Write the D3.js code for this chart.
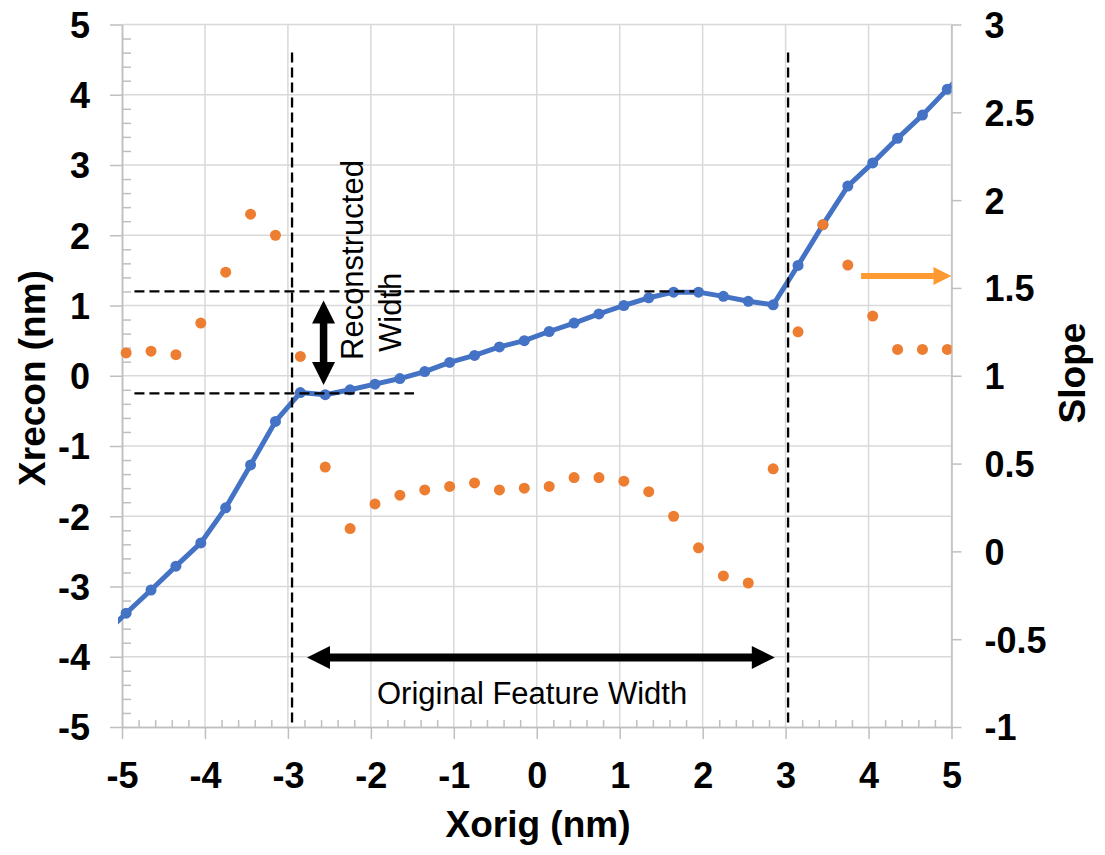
<!DOCTYPE html>
<html lang="en">
<head>
<meta charset="UTF-8">
<title>Xrecon vs Xorig</title>
<style>
    body { margin: 0; background: #fff; }
    svg { display: block; font-family: Arial, "Liberation Sans", sans-serif; }
    .tick-label { font-size: 36px; font-weight: bold; fill: #000; }
    .axis-title { font-size: 37px; font-weight: bold; fill: #000; }
    .note { font-size: 31px; fill: #000; }
</style>
</head>
<body>
<script src="https://d3js.org/d3.v7.min.js"></script>
<script>
// Xorig sample positions (nm); the first and last sit just outside the plot and get clipped
const xOrig = [-5.25, -4.95, -4.65, -4.35, -4.05, -3.75, -3.45, -3.15, -2.85, -2.55, -2.25, -1.95,
    -1.65, -1.35, -1.05, -0.75, -0.45, -0.15, 0.15, 0.45, 0.75, 1.05, 1.35, 1.65,
    1.95, 2.25, 2.55, 2.85, 3.15, 3.45, 3.75, 4.05, 4.35, 4.65, 4.95, 5.25];
// reconstructed position (left axis, nm)
const xRecon = [-3.72, -3.38, -3.05, -2.71, -2.38, -1.88, -1.27, -0.65, -0.24, -0.27, -0.2, -0.12,
    -0.04, 0.06, 0.19, 0.29, 0.41, 0.5, 0.63, 0.75, 0.88, 1.0, 1.11, 1.19,
    1.19, 1.13, 1.06, 1.01, 1.57, 2.15, 2.7, 3.03, 3.38, 3.71, 4.08, 4.43];
// slope (right axis)
const slope = [null, 1.13, 1.14, 1.12, 1.3, 1.59, 1.92, 1.8, 1.11, 0.48, 0.13, 0.27,
    0.32, 0.35, 0.37, 0.39, 0.35, 0.36, 0.37, 0.42, 0.42, 0.4, 0.34, 0.2,
    0.02, -0.14, -0.18, 0.47, 1.25, 1.86, 1.63, 1.34, 1.15, 1.15, 1.15, null];

const xTicks = [-5, -4, -3, -2, -1, 0, 1, 2, 3, 4, 5];
const yLeftTicks = [-5, -4, -3, -2, -1, 0, 1, 2, 3, 4, 5];
const yRightTicks = [-1, -0.5, 0, 0.5, 1, 1.5, 2, 2.5, 3];

// annotation geometry in data units
const featureEdges = [-2.95, 3.03];      // vertical dashed lines
const featureTop = 4.6;
const reconLevels = [1.2, -0.25];        // horizontal dashed lines
const reconLineEnds = [1.9, -1.48];
const dashStart = -4.85;
const reconArrow = {x: -2.57, y0: -0.13, y1: 1.07};
const featureArrow = {y: -4.01, x0: -2.77, x1: 2.87};
const slopeArrow = {y: 1.42, x0: 3.91, x1: 5.0};

const width = 1105, height = 855;
const pLeft = 122, pRight = 951.5, pTop = 24.5, pBottom = 727;

const svg = d3.select("body").append("svg")
    .attr("width", width)
    .attr("height", height);

const x = d3.scaleLinear().domain([-5, 5]).range([pLeft, pRight]);
const y = d3.scaleLinear().domain([-5, 5]).range([pBottom, pTop]);
const y2 = d3.scaleLinear().domain([-1, 3]).range([pBottom, pTop]);

svg.append("defs").append("clipPath").attr("id", "plot")
    .append("rect")
    .attr("x", pLeft - 4).attr("y", pTop)
    .attr("width", pRight - pLeft + 4).attr("height", pBottom - pTop);

// gridlines
const grid = svg.append("g").attr("stroke", "#d9d9d9").attr("stroke-width", 1.5);
grid.selectAll(".gx").data(xTicks.slice(1)).join("line")
    .attr("x1", d => x(d)).attr("x2", d => x(d))
    .attr("y1", pTop).attr("y2", pBottom);
grid.selectAll(".gy").data(yLeftTicks.slice(1)).join("line")
    .attr("x1", pLeft).attr("x2", pRight)
    .attr("y1", d => y(d)).attr("y2", d => y(d));

// minor tick values every 0.2
const minor = d3.range(-50, 51, 2).map(d => d / 10).filter(d => !Number.isInteger(d));
const plain = d => String(d);   // keep a hyphen minus, like the source chart

function styleAxis(g) {
    g.select(".domain").attr("stroke", "#bfbfbf").attr("stroke-width", 1.5);
    g.selectAll(".tick line").attr("stroke", "#bfbfbf").attr("stroke-width", 1.5);
}

// bottom axis
svg.append("g").attr("transform", `translate(0,${pBottom})`)
    .call(d3.axisTop(x).tickValues(minor).tickSize(7).tickSizeOuter(0).tickFormat(""))
    .call(styleAxis);
svg.append("g").attr("transform", `translate(0,${pBottom})`)
    .call(d3.axisBottom(x).tickValues(xTicks).tickSize(12).tickSizeOuter(0).tickFormat(plain))
    .call(styleAxis)
    .call(g => g.selectAll("text").attr("class", "tick-label").attr("y", 61).attr("dy", 0)
        .attr("font-size", null).attr("font-family", null));

// left axis
svg.append("g").attr("transform", `translate(${pLeft},0)`)
    .call(d3.axisRight(y).tickValues(minor).tickSize(9).tickSizeOuter(0).tickFormat(""))
    .call(styleAxis);
svg.append("g").attr("transform", `translate(${pLeft},0)`)
    .call(d3.axisLeft(y).tickValues(yLeftTicks).tickSize(12).tickSizeOuter(0).tickFormat(plain))
    .call(styleAxis)
    .call(g => g.selectAll("text").attr("class", "tick-label").attr("x", -32).attr("dy", "0.36em")
        .attr("font-size", null).attr("font-family", null));

// right axis
svg.append("g").attr("transform", `translate(${pRight},0)`)
    .call(d3.axisRight(y2).tickValues(yRightTicks).tickSize(10).tickSizeOuter(0).tickFormat(plain))
    .call(styleAxis)
    .call(g => g.selectAll("text").attr("class", "tick-label").attr("x", 33).attr("dy", "0.36em")
        .attr("font-size", null).attr("font-family", null));

// axis titles
svg.append("text").attr("class", "axis-title")
    .attr("x", 538).attr("y", 837).attr("text-anchor", "middle")
    .text("Xorig (nm)");
svg.append("text").attr("class", "axis-title")
    .attr("transform", "translate(45,378) rotate(-90)").attr("text-anchor", "middle")
    .text("Xrecon (nm)");
svg.append("text").attr("class", "axis-title")
    .attr("transform", "translate(1085,373) rotate(-90)").attr("text-anchor", "middle")
    .text("Slope");

// series
const plot = svg.append("g").attr("clip-path", "url(#plot)");
const pts = xOrig.map((d, i) => ({x: d, r: xRecon[i], s: slope[i]}));

plot.append("path").datum(pts)
    .attr("fill", "none").attr("stroke", "#4472c4").attr("stroke-width", 5)
    .attr("stroke-linejoin", "round")
    .attr("d", d3.line().x(d => x(d.x)).y(d => y(d.r)));
plot.selectAll(".mb").data(pts).join("circle")
    .attr("cx", d => x(d.x)).attr("cy", d => y(d.r)).attr("r", 5.5)
    .attr("fill", "#4472c4");
plot.selectAll(".mo").data(pts.filter(d => d.s != null)).join("circle")
    .attr("cx", d => x(d.x)).attr("cy", d => y2(d.s)).attr("r", 5.5)
    .attr("fill", "#ed7d31");

// annotations
const ann = svg.append("g");
ann.selectAll(".vd").data(featureEdges).join("line")
    .attr("x1", d => x(d)).attr("x2", d => x(d))
    .attr("y1", y(featureTop)).attr("y2", pBottom)
    .attr("stroke", "#000").attr("stroke-width", 2.3).attr("stroke-dasharray", "10,5");
ann.selectAll(".hd").data(reconLevels).join("line")
    .attr("x1", x(dashStart)).attr("x2", (d, i) => x(reconLineEnds[i]))
    .attr("y1", d => y(d)).attr("y2", d => y(d))
    .attr("stroke", "#000").attr("stroke-width", 2.3).attr("stroke-dasharray", "10,5");

function arrowHead(tx, ty, dx, dy, len, half, color) {
    // triangle with tip at (tx,ty) pointing along (dx,dy)
    const bx = tx - dx * len, by = ty - dy * len;
    const px = -dy * half, py = dx * half;
    ann.append("path")
        .attr("d", `M${tx},${ty}L${bx + px},${by + py}L${bx - px},${by - py}Z`)
        .attr("fill", color);
}

// vertical double arrow (reconstructed width)
{
    const ax = x(reconArrow.x), a0 = y(reconArrow.y0), a1 = y(reconArrow.y1);
    ann.append("line").attr("x1", ax).attr("x2", ax).attr("y1", a0 - 20).attr("y2", a1 + 20)
        .attr("stroke", "#000").attr("stroke-width", 7.5);
    arrowHead(ax, a0, 0, 1, 23, 11.5, "#000");
    arrowHead(ax, a1, 0, -1, 23, 11.5, "#000");
}
// horizontal double arrow (original feature width)
{
    const ay = y(featureArrow.y), a0 = x(featureArrow.x0), a1 = x(featureArrow.x1);
    ann.append("line").attr("x1", a0 + 20).attr("x2", a1 - 20).attr("y1", ay).attr("y2", ay)
        .attr("stroke", "#000").attr("stroke-width", 8);
    arrowHead(a0, ay, -1, 0, 23, 11.5, "#000");
    arrowHead(a1, ay, 1, 0, 23, 11.5, "#000");
}
// orange arrow pointing at the slope axis
{
    const ay = y(slopeArrow.y), a0 = x(slopeArrow.x0), a1 = x(slopeArrow.x1);
    ann.append("line").attr("x1", a0).attr("x2", a1 - 15).attr("y1", ay).attr("y2", ay)
        .attr("stroke", "#ff9a33").attr("stroke-width", 6);
    arrowHead(a1, ay, 1, 0, 18, 9, "#ff9a33");
}

// annotation text
ann.append("text").attr("class", "note")
    .attr("transform", `translate(363,360) rotate(-90)`)
    .text("Reconstructed");
ann.append("text").attr("class", "note")
    .attr("transform", `translate(401,352) rotate(-90)`)
    .text("Width");
ann.append("text").attr("class", "note")
    .attr("x", 377).attr("y", 704)
    .text("Original Feature Width");
</script>
</body>
</html>
